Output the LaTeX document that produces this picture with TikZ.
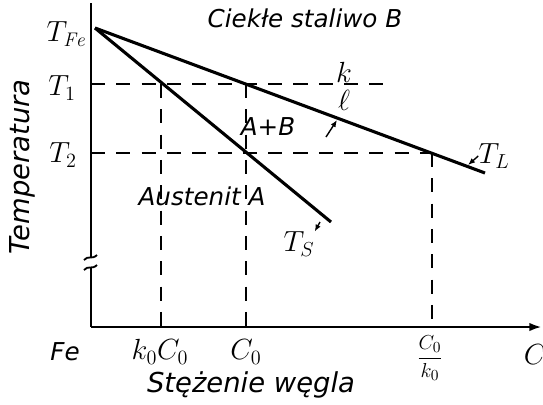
\documentclass[tikz,border=0pt]{standalone}
\usepackage{fontspec}
\setsansfont{DejaVu Sans}
\usetikzlibrary{arrows.meta}
\tikzset{
  curve/.style={line width=2.2pt},
  guide/.style={line width=1.6pt, dash pattern=on 10pt off 8pt},
  lbl/.style={font=\sffamily\itshape\fontsize{17.5}{20}\selectfont, inner sep=1pt},
  axlbl/.style={font=\sffamily\itshape\fontsize{19.5}{22}\selectfont, inner sep=1pt},
  mlbl/.style={font=\fontsize{20}{24}\selectfont, inner sep=0pt},
  pointer/.style={-{Latex[length=5pt,width=4pt]}, line width=1pt}
}
\begin{document}
\begin{tikzpicture}[x=0.025cm, y=-0.025cm]
  \useasboundingbox (0,0) rectangle (543,404);
  % axes
  \coordinate (O) at (91,327);
  \coordinate (Ctop) at (91,3);
  \coordinate (Cend) at (542,327);
  \coordinate (brkA) at (91,258);
  \coordinate (brkB) at (91,268);
  \draw[line width=2pt] (Ctop) -- (brkA);
  \draw[line width=2pt] (brkB) -- (O);
  \draw[line width=2pt, -{Latex[length=9pt,width=6pt]}] (O) -- (Cend);
  \draw[line width=1.3pt] (84,260) .. controls (88,255) and (92,260) .. (97,255);
  \draw[line width=1.3pt] (84,270) .. controls (88,265) and (92,270) .. (97,265);
  % liquidus and solidus
  \coordinate (TFe) at (95,28);
  \coordinate (liqEnd) at (485,173);
  \coordinate (solEnd) at (331,222);
  \draw[curve] (TFe) -- (liqEnd);
  \draw[curve] (TFe) -- (solEnd);
  % guide lines
  \coordinate (T1a) at (91,84);
  \coordinate (T1b) at (392,84);
  \coordinate (T2a) at (91,153);
  \coordinate (T2b) at (432,153);
  \coordinate (kC) at (161,84);
  \coordinate (C0) at (246,84);
  \coordinate (CL) at (432,153);
  \draw[guide] (T1a) -- (T1b);
  \draw[guide] (T2a) -- (T2b);
  \draw[guide] (kC) -- (kC |- O);
  \draw[guide] (C0) -- (C0 |- O);
  \draw[guide] (CL) -- (CL |- O);
  % labels
  \node[mlbl] (tfe) at (66,34) {$T_{\mathit{Fe}}$};
  \node[mlbl] (t1) at (62,88) {$T_1$};
  \node[mlbl] (t2) at (63,155) {$T_2$};
  \node[axlbl, rotate=90] (temp) at (22,167) {Temperatura};
  \node[lbl] (liq) at (305,18) {Ciekłe staliwo B};
  \node[lbl] (ab) at (268,127) {A+B};
  \node[mlbl] (kk) at (344,72) {$k$};
  \node[mlbl] (ll) at (344,100) {$\ell$};
  \node[lbl] (aus) at (202,196) {Austenit A};
  \node[mlbl] (ts) at (299,244) {$T_S$};
  \node[mlbl] (tl) at (494,156) {$T_L$};
  \node[lbl] (fe) at (65,352) {Fe};
  \node[mlbl] (kc0) at (160,352) {$k_0C_0$};
  \node[mlbl] (c0) at (246,352) {$C_0$};
  \node[mlbl, font=\fontsize{15}{17}\selectfont] (clk) at (430,358) {$\displaystyle\frac{C_0}{k_0}$};
  \node[mlbl] (cc) at (535,355) {$C$};
  \node[axlbl] (axc) at (251,385) {Stężenie węgla};
  % pointers
  \coordinate (pAB) at (337,120);
  \coordinate (pTL) at (468,165);
  \coordinate (pTS) at (320,222);
  \draw[pointer] (326,137) -- (pAB);
  \draw[pointer] (tl.west) -- (pTL);
  \draw[pointer] (pTS) -- (ts.north east);
\end{tikzpicture}
\end{document}
